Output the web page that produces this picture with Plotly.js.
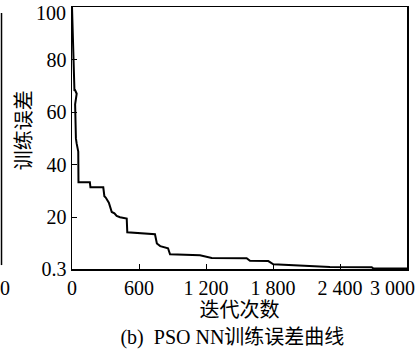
<!DOCTYPE html>
<html>
<head>
<meta charset="utf-8">
<script src="https://cdn.plot.ly/plotly-3.0.1.min.js"></script>
<style>html,body{margin:0;padding:0;background:#fff;}#chart{width:418px;height:351px;}</style>
</head>
<body>
<div id="chart"></div>
<script>
// Iteration counts and training error
const iterations = [0, 3, 8, 12, 18, 22, 26, 42, 28, 30, 35, 42, 50, 56, 58, 160, 165, 280, 290, 302, 330, 340, 356, 380, 400, 430, 490, 495, 743, 760, 790, 860, 878, 1146, 1251, 1564, 1594, 1758, 1803, 2310, 2684, 2700, 3000];
const trainError = [100, 95, 88, 80, 72, 68, 68.5, 67, 63, 55, 50, 48, 46, 45, 33.3, 33.3, 31.4, 31.4, 28, 27.5, 25.5, 24, 22, 21.5, 20.5, 20, 19.5, 14.3, 13.5, 10, 9.0, 8.2, 5.9, 5.5, 4.5, 4.4, 3.4, 3.3, 2.1, 1.1, 0.95, 0.45, 0.45];

const xTickVals = [0, 600, 1200, 1800, 2400, 3000];
const xTickText = ["0", "600", "1 200", "1 800", "2 400", ""];
const yTickVals = [0.3, 20, 40, 60, 80, 100];
const yTickText = ["0.3", "20", "40", "60", "80", ""];
const xEndLabel = "3 000";   // last x tick label, drawn shifted inward as in the reference
const yEndLabel = "100";     // top y tick label, drawn shifted downward as in the reference

const FONT = "Liberation Serif, Noto Sans CJK SC, serif";
const TICK_SIZE = 20;
const CJK_SIZE = 20;

const trace = {
  x: iterations, y: trainError, type: "scatter", mode: "lines",
  line: {color: "#000", width: 2}, hoverinfo: "skip"
};

const axisCommon = {
  showgrid: false, zeroline: false, showline: true, linecolor: "#000", linewidth: 1.5,
  mirror: true, ticks: "inside", ticklen: 5, tickwidth: 1, tickcolor: "#000",
  tickfont: {family: FONT, size: TICK_SIZE, color: "#000"}
};

const layout = {
  width: 418, height: 351,
  margin: {l: 72, r: 11, t: 7, b: 82},
  paper_bgcolor: "#fff", plot_bgcolor: "#fff",
  showlegend: false,
  font: {family: FONT, color: "#000"},
  xaxis: Object.assign({}, axisCommon, {
    range: [0, 3000], tickmode: "array", tickvals: xTickVals, ticktext: xTickText,
    title: {text: "迭代次数", font: {family: FONT, size: CJK_SIZE, color: "#000"}, standoff: 5}
  }),
  yaxis: Object.assign({}, axisCommon, {
    range: [0.3, 100], tickmode: "array", tickvals: yTickVals, ticktext: yTickText
  }),
  title: {
    text: "(b)  PSO NN训练误差曲线",
    font: {family: FONT, size: CJK_SIZE, color: "#000"},
    x: 0.556, xanchor: "center", y: 0.04, yanchor: "middle", yref: "container"
  },
  annotations: [
    {text: "训练误差", xref: "paper", yref: "paper", x: -0.143, y: 0.53,
     xanchor: "center", yanchor: "middle", textangle: -90, showarrow: false,
     font: {family: FONT, size: CJK_SIZE, color: "#000"}},
    {text: yEndLabel, xref: "paper", yref: "paper", x: -0.012, y: 0.979,
     xanchor: "right", yanchor: "middle", showarrow: false,
     font: {family: FONT, size: TICK_SIZE, color: "#000"}},
    {text: xEndLabel, xref: "paper", yref: "paper", x: 1.03, y: -0.072,
     xanchor: "right", yanchor: "middle", showarrow: false,
     font: {family: FONT, size: TICK_SIZE, color: "#000"}},
    {text: "00", xref: "paper", yref: "paper", x: -0.179, y: -0.072,
     xanchor: "right", yanchor: "middle", showarrow: false,
     font: {family: FONT, size: TICK_SIZE, color: "#000"}}
  ],
  shapes: [
    {type: "line", xref: "paper", yref: "paper", x0: -0.2104, x1: -0.2104, y0: 0.015, y1: 0.977,
     line: {color: "#000", width: 1.5}}
  ]
};

Plotly.newPlot("chart", [trace], layout, {staticPlot: true, displayModeBar: false});
</script>
</body>
</html>
